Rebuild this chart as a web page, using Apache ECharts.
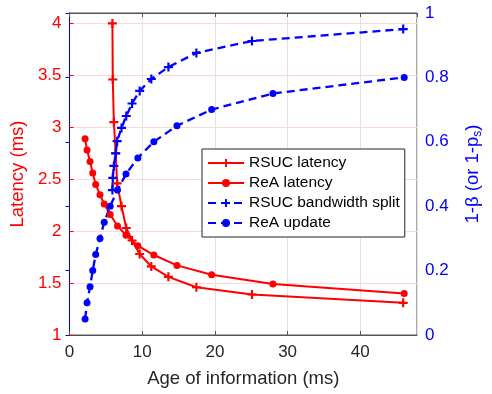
<!DOCTYPE html>
<html>
<head>
<meta charset="utf-8">
<script src="https://cdn.jsdelivr.net/npm/echarts@6/dist/echarts.min.js"></script>
<style>
  html, body { margin: 0; padding: 0; background: #fff; }
  #chart { width: 492px; height: 394px; }
</style>
</head>
<body>
<div id="chart"></div>
<script>
// age of information (ms) for RSUC points
var rsucAge = [5.9, 5.95, 6.1, 6.35, 6.55, 7.15, 7.8, 8.6, 9.65, 11.25, 13.6, 17.45, 25.1, 45.9];
var rsucLatency = [4.0, 3.46, 3.05, 2.75, 2.46, 2.24, 2.03, 1.91, 1.78, 1.66, 1.56, 1.46, 1.39, 1.31];
var rsucSplit = [0.45, 0.488, 0.525, 0.564, 0.602, 0.643, 0.68, 0.719, 0.758, 0.795, 0.832, 0.876, 0.913, 0.95];

// age of information (ms) for ReA points
var reaAge = [2.14, 2.41, 2.82, 3.19, 3.6, 4.19, 4.77, 5.59, 6.6, 7.77, 9.4, 11.6, 14.78, 19.55, 27.98, 46.04];
var reaLatency = [2.89, 2.78, 2.67, 2.56, 2.45, 2.35, 2.26, 2.16, 2.05, 1.96, 1.86, 1.77, 1.67, 1.58, 1.49, 1.40];
var reaUpdate = [0.05, 0.10, 0.15, 0.20, 0.25, 0.30, 0.35, 0.40, 0.45, 0.50, 0.55, 0.60, 0.65, 0.70, 0.75, 0.80];

var seriesNames = ['RSUC latency', 'ReA latency', 'RSUC bandwidth split', 'ReA update'];

function pairs(xs, ys) {
    return xs.map(function (x, i) { return [x, ys[i]]; });
}

var RED = '#ff0000';
var BLUE = '#0000ff';
var DARK = '#262626';
var plus = 'path://M0.38,0H0.62V0.38H1V0.62H0.62V1H0.38V0.62H0V0.38H0.38Z';
var font = '"Liberation Sans", Arial, sans-serif';

var chart = echarts.init(document.getElementById('chart'));
chart.setOption({
    animation: false,
    textStyle: { fontFamily: font },
    grid: {
        left: 68, right: 74, top: 13, bottom: 59,
        show: true, borderColor: '#555', borderWidth: 1
    },
    legend: {
        data: seriesNames,
        orient: 'vertical',
        left: 202, top: 149,
        padding: [6, 5, 6, 5],
        itemWidth: 36, itemHeight: 10, itemGap: 4,
        backgroundColor: '#fff',
        borderColor: DARK, borderWidth: 1,
        textStyle: { fontSize: 15.5, color: '#000', fontFamily: font }
    },
    xAxis: [{
        type: 'value', min: 0, max: 47.8, interval: 10,
        name: 'Age of information (ms)',
        nameLocation: 'middle', nameGap: 34,
        nameTextStyle: { fontSize: 18.5, color: DARK },
        axisLine: { lineStyle: { color: '#555' } },
        axisTick: { inside: true, length: 4, lineStyle: { color: '#555' } },
        axisLabel: { fontSize: 17, color: DARK, margin: 9, showMaxLabel: false },
        splitLine: { show: true, lineStyle: { color: '#e3e3e3' } }
    }, {
        type: 'value', min: 0, max: 47.8, interval: 10, position: 'top',
        axisLine: { show: true, lineStyle: { color: '#555' } },
        axisTick: { show: true, inside: true, length: 4, lineStyle: { color: '#555' } },
        axisLabel: { show: false },
        splitLine: { show: false }
    }],
    yAxis: [{
        type: 'value', min: 1, max: 4.1, interval: 0.5,
        name: 'Latency (ms)',
        nameLocation: 'middle', nameGap: 35,
        nameTextStyle: { fontSize: 18.5, color: RED },
        axisLine: { show: true, lineStyle: { color: RED } },
        axisTick: { show: true, inside: true, length: 4, lineStyle: { color: RED } },
        axisLabel: { fontSize: 17, color: RED, margin: 8, showMaxLabel: false },
        splitLine: { show: true, lineStyle: { color: '#fbdada' } }
    }, {
        type: 'value', min: 0, max: 1, interval: 0.2, position: 'right',
        name: '1-β (or 1-p{sub|s})',
        nameLocation: 'middle', nameGap: 45,
        nameTextStyle: {
            fontSize: 18.5, color: BLUE,
            rich: { sub: { fontSize: 12, color: BLUE, padding: [10, 0, 0, 0] } }
        },
        axisLine: { show: true, lineStyle: { color: BLUE } },
        axisTick: { show: true, inside: true, length: 4, lineStyle: { color: BLUE } },
        axisLabel: { fontSize: 17, color: BLUE, margin: 8 },
        splitLine: { show: false }
    }],
    series: [{
        name: seriesNames[0], type: 'line', yAxisIndex: 0,
        data: pairs(rsucAge, rsucLatency),
        symbol: plus, symbolSize: 9,
        lineStyle: { color: RED, width: 2 },
        itemStyle: { color: RED }
    }, {
        name: seriesNames[1], type: 'line', yAxisIndex: 0,
        data: pairs(reaAge, reaLatency),
        symbol: 'circle', symbolSize: 7,
        lineStyle: { color: RED, width: 2 },
        itemStyle: { color: RED }
    }, {
        name: seriesNames[2], type: 'line', yAxisIndex: 1,
        data: pairs(rsucAge, rsucSplit),
        symbol: plus, symbolSize: 9,
        lineStyle: { color: BLUE, width: 2.3, type: [8, 5] },
        itemStyle: { color: BLUE }
    }, {
        name: seriesNames[3], type: 'line', yAxisIndex: 1,
        data: pairs(reaAge, reaUpdate),
        symbol: 'circle', symbolSize: 7,
        lineStyle: { color: BLUE, width: 2.3, type: [8, 5] },
        itemStyle: { color: BLUE }
    }]
});
</script>
</body>
</html>
